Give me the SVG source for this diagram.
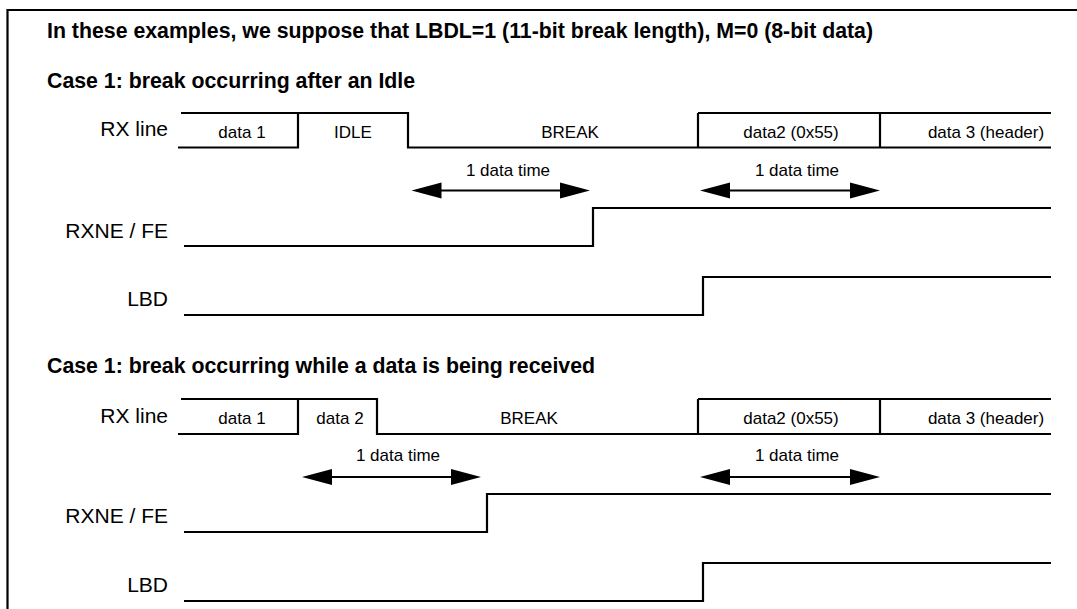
<svg xmlns="http://www.w3.org/2000/svg" width="1077" height="609" viewBox="0 0 1077 609">
<style>
.s{fill:none;stroke:#000;stroke-width:2.2}
.h{font-family:"Liberation Sans",Arial,sans-serif;font-weight:bold;font-size:21.3px}
.l{font-family:"Liberation Sans",Arial,sans-serif;font-size:21px;text-anchor:end}
.d{font-family:"Liberation Sans",Arial,sans-serif;font-size:17px;text-anchor:middle}
.a{fill:#000}
</style>
<defs>
<g id="arr"><polygon class="a" points="0,0 30,-8 30,8"/></g>
</defs>
<rect width="1077" height="609" fill="#fff"/>
<path class="s" d="M7.5,609 V10 H1077"/>
<text class="h" x="47" y="38">In these examples, we suppose that LBDL=1 (11-bit break length), M=0 (8-bit data)</text>
<text class="h" x="47" y="88">Case 1: break occurring after an Idle</text>
<text class="h" x="47" y="373">Case 1: break occurring while a data is being received</text>
<g id="case1-labels">
<text class="l" x="168" y="136">RX line</text>
<text class="l" x="168" y="238">RXNE / FE</text>
<text class="l" x="168" y="306">LBD</text>
</g>
<g id="case1-rx">
<path class="s" d="M178,147.5 H298 V113 M181,113 H408 V147.5 H1051 M698,113 V147.5 M880,113 V147.5 M698,113 H1051"/>
<text class="d" x="242" y="138">data 1</text>
<text class="d" x="353" y="138">IDLE</text>
<text class="d" x="570" y="138">BREAK</text>
<text class="d" x="791" y="138">data2 (0x55)</text>
<text class="d" x="986" y="138">data 3 (header)</text>
</g>
<g id="case1-signals">
<path class="s" d="M184,246 H593 V208 H1051"/>
<path class="s" d="M184,315 H703 V277 H1051"/>
</g>
<g id="connectors">
<path class="s" d="M430,190.5 H571"/>
<use href="#arr" x="411.5" y="190.5"/>
<use href="#arr" transform="translate(590,190.5) scale(-1,1)"/>
<text class="d" x="508" y="176">1 data time</text>
<path class="s" d="M720,190.5 H861"/>
<use href="#arr" x="700" y="190.5"/>
<use href="#arr" transform="translate(880,190.5) scale(-1,1)"/>
<text class="d" x="797" y="176">1 data time</text>
<path class="s" d="M320,477 H462"/>
<use href="#arr" x="302" y="477"/>
<use href="#arr" transform="translate(481,477) scale(-1,1)"/>
<text class="d" x="398" y="461">1 data time</text>
<path class="s" d="M720,477 H861"/>
<use href="#arr" x="700" y="477"/>
<use href="#arr" transform="translate(880,477) scale(-1,1)"/>
<text class="d" x="797" y="461">1 data time</text>
</g>
<g id="case2-labels">
<text class="l" x="168" y="423">RX line</text>
<text class="l" x="168" y="523">RXNE / FE</text>
<text class="l" x="168" y="592">LBD</text>
</g>
<g id="case2-rx">
<path class="s" d="M178,434 H298 V399 M181,399 H377 V434 H1051 M698,399 V434 M880,399 V434 M698,399 H1051"/>
<text class="d" x="242" y="424">data 1</text>
<text class="d" x="340" y="424">data 2</text>
<text class="d" x="529" y="424">BREAK</text>
<text class="d" x="791" y="424">data2 (0x55)</text>
<text class="d" x="986" y="424">data 3 (header)</text>
</g>
<g id="case2-signals">
<path class="s" d="M184,532 H487 V494 H1051"/>
<path class="s" d="M184,601 H703 V563 H1051"/>
</g>
</svg>
